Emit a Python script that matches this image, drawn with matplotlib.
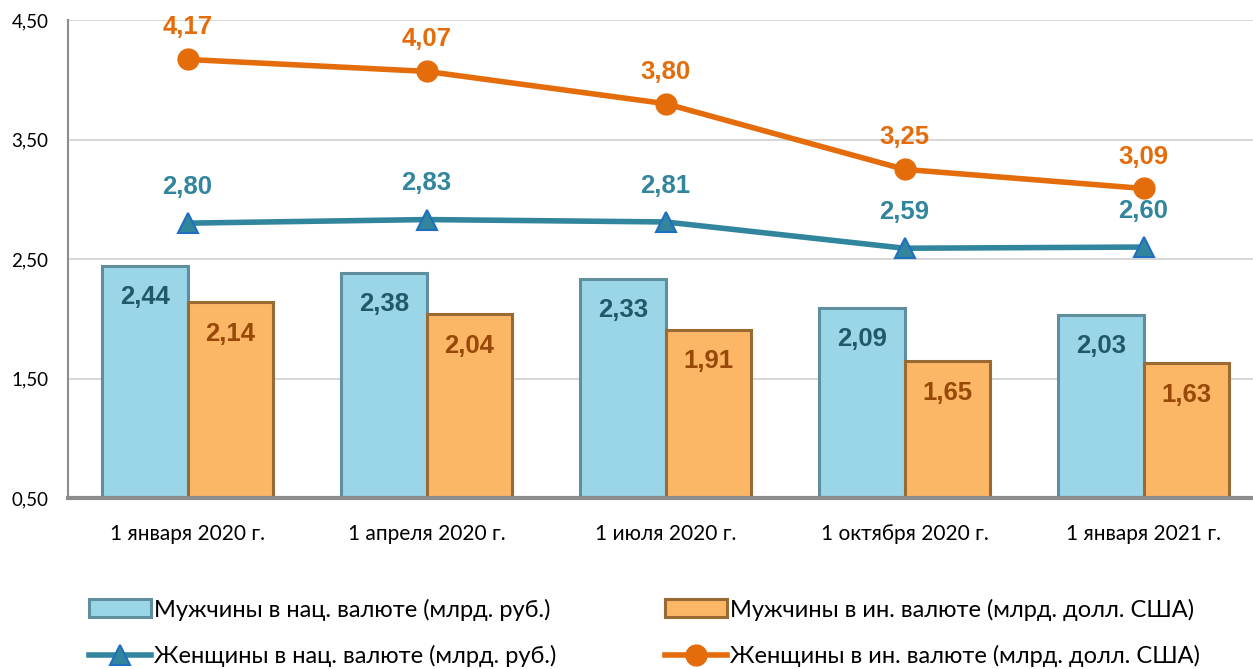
import numpy as np
import matplotlib.pyplot as plt

plt.rcParams['font.family'] = ['Lato', 'DejaVu Sans']

dates = ['1 января 2020 г.', '1 апреля 2020 г.', '1 июля 2020 г.',
         '1 октября 2020 г.', '1 января 2021 г.']
men_rub = [2.44, 2.38, 2.33, 2.09, 2.03]
men_usd = [2.14, 2.04, 1.91, 1.65, 1.63]
women_rub = [2.80, 2.83, 2.81, 2.59, 2.60]
women_usd = [4.17, 4.07, 3.80, 3.25, 3.09]
yticks = [0.5, 1.5, 2.5, 3.5, 4.5]

names = ['Мужчины в нац. валюте (млрд. руб.)',
         'Мужчины в ин. валюте (млрд. долл. США)',
         'Женщины в нац. валюте (млрд. руб.)',
         'Женщины в ин. валюте (млрд. долл. США)']

def fmt(v):
    return f'{v:.2f}'.replace('.', ',')

fig = plt.figure(figsize=(12.53, 6.69), dpi=100)
ax = fig.add_axes([68 / 1253, 1 - 498 / 669, 1195 / 1253, 478 / 669])

x = np.arange(len(dates))
w = 0.356
b1 = ax.bar(x - w / 2, np.array(men_rub) - 0.5, w, bottom=0.5, color='#9ad6e8',
            edgecolor='#5f8e9c', linewidth=2.2, zorder=2)
b2 = ax.bar(x + w / 2, np.array(men_usd) - 0.5, w, bottom=0.5, color='#fbb666',
            edgecolor='#9a6a35', linewidth=2.2, zorder=2)

l1, = ax.plot(x, women_rub, color='#31859c', lw=4, marker='^', ms=15,
              mfc='#31859c', mec='#1f6fc0', mew=1.5, zorder=3)
l2, = ax.plot(x, women_usd, color='#e46c0a', lw=4, marker='o', ms=15,
              mfc='#e46c0a', mec='#e46c0a', zorder=3)

lab = dict(ha='center', va='center', fontsize=18.5, fontweight='bold',
           family=['Liberation Sans', 'DejaVu Sans'], textcoords='offset points', zorder=4)
for xi, v in zip(x, men_rub):
    ax.annotate(fmt(v), (xi - w / 2, v), xytext=(0, -22), color='#215968', **lab)
for xi, v in zip(x, men_usd):
    ax.annotate(fmt(v), (xi + w / 2, v), xytext=(0, -23), color='#984807', **lab)
for xi, v in zip(x, women_rub):
    ax.annotate(fmt(v), (xi, v), xytext=(0, 26), color='#31859c', **lab)
for xi, v in zip(x, women_usd):
    ax.annotate(fmt(v), (xi, v), xytext=(0, 23), color='#e46c0a', **lab)

ax.set_xlim(-0.5, 4.5)
ax.set_ylim(0.5, 4.5)
ax.set_yticks(yticks)
ax.set_yticklabels([fmt(t) for t in yticks], fontsize=13.5)
ax.set_xticks(x)
ax.set_xticklabels(dates, fontsize=15)
ax.tick_params(axis='both', length=0)
ax.tick_params(axis='y', pad=14)
ax.tick_params(axis='x', pad=19)
ax.yaxis.grid(True, color='#d0d0d0', lw=1.2, zorder=0)
ax.set_axisbelow(True)
for s in ['top', 'right']:
    ax.spines[s].set_visible(False)
ax.spines['left'].set_color('#8c8c8c')
ax.spines['left'].set_linewidth(1.5)
ax.spines['bottom'].set_color('#8c8c8c')
ax.spines['bottom'].set_linewidth(3)

fig.legend([b1, l1, b2, l2], [names[0], names[2], names[1], names[3]],
           loc='upper left', bbox_to_anchor=(80 / 1253, 1 - 589 / 669), ncol=2,
           frameon=False, fontsize=17, handlelength=2.6, handleheight=0.8,
           handletextpad=0.15, columnspacing=4.6, labelspacing=1.05, borderaxespad=0)

fig.savefig('out.png', dpi=100)
